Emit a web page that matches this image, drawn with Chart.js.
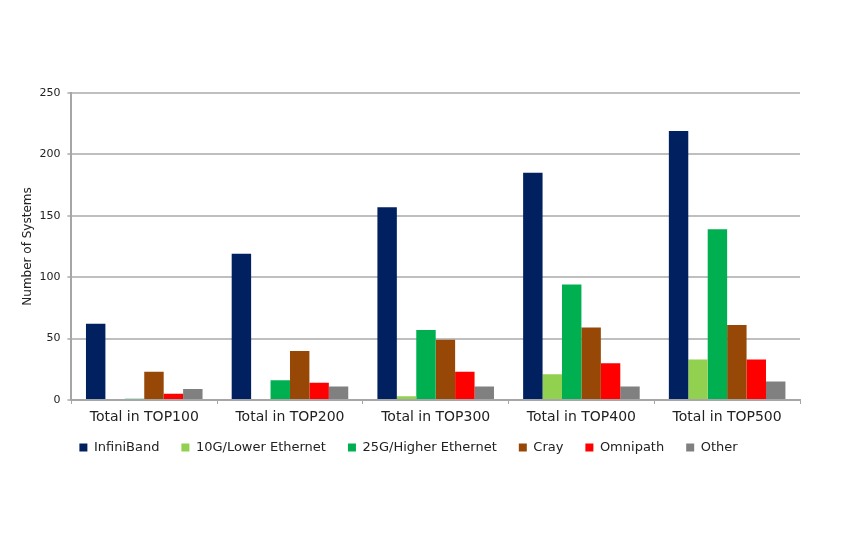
<!DOCTYPE html>
<html>
<head>
<meta charset="utf-8">
<script src="https://cdn.jsdelivr.net/npm/chart.js@4.4.1/dist/chart.umd.min.js"></script>
<style>
html,body{margin:0;padding:0;background:#fff;}
#wrap{width:843px;height:543px;position:relative;}
</style>
</head>
<body>
<div id="wrap"><canvas id="c"></canvas></div>
<script>
const categories = ["Total in TOP100","Total in TOP200","Total in TOP300","Total in TOP400","Total in TOP500"];
const seriesNames = ["InfiniBand","10G/Lower Ethernet","25G/Higher Ethernet","Cray","Omnipath","Other"];
const infiniband = [62,119,157,185,219];
const ethernet10g = [0,0,3,21,33];
const ethernet25g = [1,16,57,94,139];
const cray = [23,40,49,59,61];
const omnipath = [5,14,23,30,33];
const other = [9,11,11,11,15];
const yTicks = [0,50,100,150,200,250];

const colors = ["#002060","#92D050","#00B050","#974706","#FF0000","#808080"];
const seriesData = [infiniband, ethernet10g, ethernet25g, cray, omnipath, other];

const FONT = "'DejaVu Sans', Verdana, sans-serif";

// nudge the legend row up a little (legend padding also controls horizontal spacing)
const legendNudge = {
  id: 'legendNudge',
  afterLayout(chart) {
    const lg = chart.legend;
    if (lg) { lg.top -= 11.8; lg.bottom -= 11.8; }
  }
};

new Chart(document.getElementById('c'), {
  type: 'bar',
  data: {
    labels: categories,
    datasets: seriesNames.map((n,i)=>({
      label: n,
      data: seriesData[i],
      backgroundColor: colors[i],
      borderWidth: 0,
      categoryPercentage: 0.8,
      barPercentage: 1.0
    }))
  },
  plugins: [legendNudge],
  options: {
    responsive: true,
    maintainAspectRatio: false,
    animation: false,
    devicePixelRatio: 1,
    layout: { padding: { left: 17, right: 43, top: 93, bottom: 67.2 } },
    plugins: {
      tooltip: { enabled: false },
      legend: {
        position: 'bottom',
        labels: {
          boxWidth: 8, boxHeight: 8, padding: 22,
          color: '#222',
          font: { family: FONT, size: 13 }
        }
      }
    },
    scales: {
      x: {
        offset: true,
        grid: { display: true, drawOnChartArea: false, drawTicks: true, tickLength: 4, color: '#a6a6a6', offset: true },
        border: { display: true, color: '#a6a6a6', width: 2 },
        ticks: { color: '#222', font: { family: FONT, size: 14 }, padding: 5, maxRotation: 0 }
      },
      y: {
        min: 0, max: 250,
        afterBuildTicks: (axis)=>{ axis.ticks = yTicks.map(v=>({value:v})); },
        grid: { color: '#bfbfbf', lineWidth: 2, drawTicks: true, tickLength: 4 },
        border: { display: true, color: '#a6a6a6', width: 2 },
        ticks: { color: '#222', font: { family: FONT, size: 11 }, padding: 7 },
        title: { display: true, text: 'Number of Systems', color: '#222', font: { family: FONT, size: 12 }, padding: { top: 4, bottom: -3 } }
      }
    }
  }
});
</script>
</body>
</html>
